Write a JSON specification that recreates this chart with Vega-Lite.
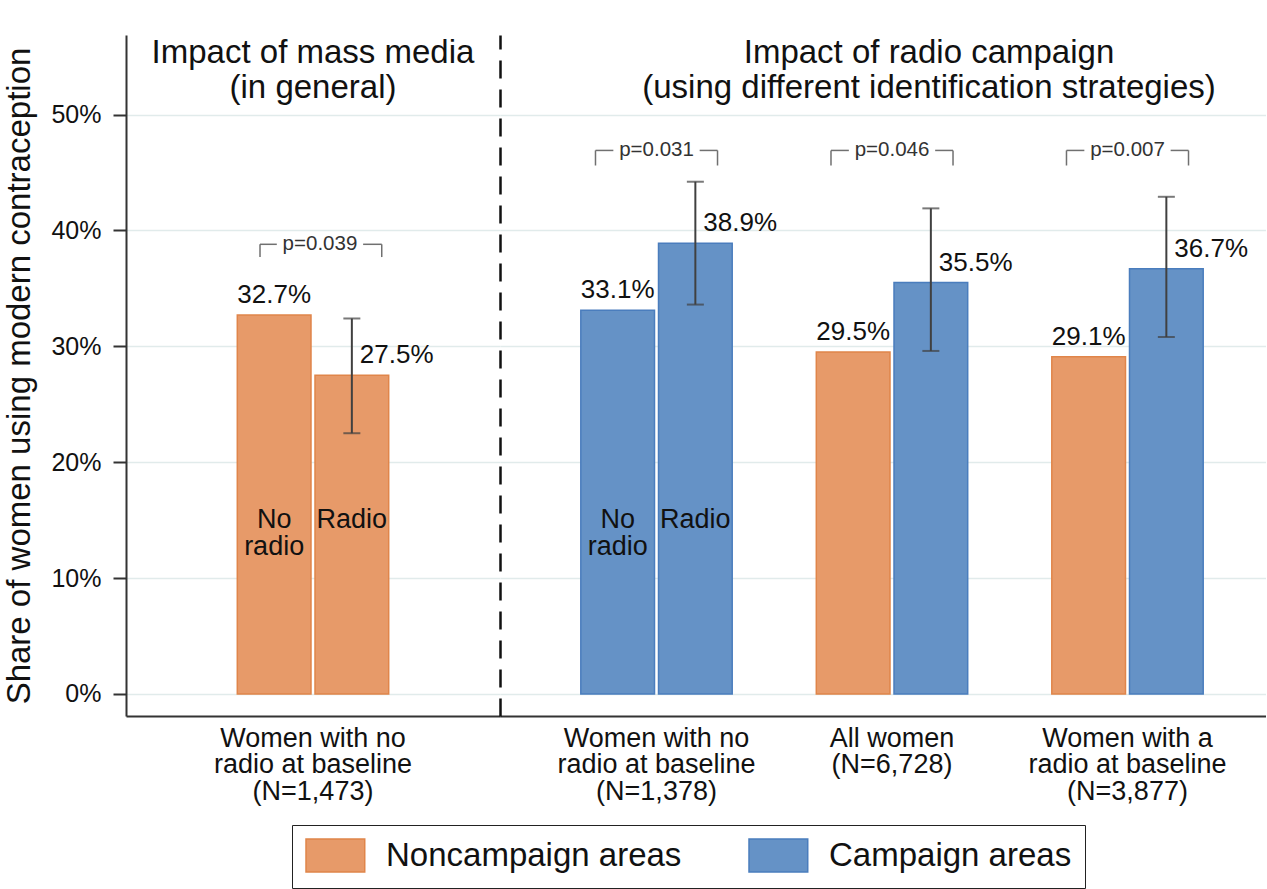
{
  "$schema": "https://vega.github.io/schema/vega-lite/v6.json",
  "background": "white",
  "padding": {"left": 3, "top": 35, "right": 0, "bottom": 0},
  "spacing": 0,
  "bounds": "flush",
  "config": {
    "font": "Liberation Sans",
    "view": {"stroke": null},
    "legend": {
      "orient": "none",
      "legendX": 166,
      "legendY": 790,
      "direction": "horizontal",
      "title": null,
      "labelFontSize": 33,
      "labelColor": "#111111",
      "labelLimit": 600,
      "symbolType": "M-1,-1H2.56V1H-1Z",
      "symbolSize": 1089,
      "symbolStrokeWidth": 1.5,
      "symbolOpacity": 1,
      "labelOffset": 46,
      "columnPadding": 64,
      "padding": 13,
      "strokeColor": "#222222"
    }
  },
  "datasets": {
    "bars": [
      {"panel": "media", "group": "Women with no\nradio at baseline\n(N=1,473)", "slot": "first", "area": "Noncampaign areas", "share": 32.7, "inbar": "No\nradio"},
      {"panel": "media", "group": "Women with no\nradio at baseline\n(N=1,473)", "slot": "second", "area": "Noncampaign areas", "share": 27.5, "lo": 22.5, "hi": 32.4, "inbar": "Radio"},
      {"panel": "campaign", "group": "Women with no\nradio at baseline\n(N=1,378)", "slot": "first", "area": "Campaign areas", "share": 33.1, "inbar": "No\nradio"},
      {"panel": "campaign", "group": "Women with no\nradio at baseline\n(N=1,378)", "slot": "second", "area": "Campaign areas", "share": 38.9, "lo": 33.6, "hi": 44.2, "inbar": "Radio"},
      {"panel": "campaign", "group": "All women\n(N=6,728)", "slot": "first", "area": "Noncampaign areas", "share": 29.5},
      {"panel": "campaign", "group": "All women\n(N=6,728)", "slot": "second", "area": "Campaign areas", "share": 35.5, "lo": 29.6, "hi": 41.9},
      {"panel": "campaign", "group": "Women with a\nradio at baseline\n(N=3,877)", "slot": "first", "area": "Noncampaign areas", "share": 29.1},
      {"panel": "campaign", "group": "Women with a\nradio at baseline\n(N=3,877)", "slot": "second", "area": "Campaign areas", "share": 36.7, "lo": 30.8, "hi": 42.9}
    ],
    "tests": [
      {"panel": "media", "group": "Women with no\nradio at baseline\n(N=1,473)", "p": "p=0.039"},
      {"panel": "campaign", "group": "Women with no\nradio at baseline\n(N=1,378)", "p": "p=0.031"},
      {"panel": "campaign", "group": "All women\n(N=6,728)", "p": "p=0.046"},
      {"panel": "campaign", "group": "Women with a\nradio at baseline\n(N=3,877)", "p": "p=0.007"}
    ]
  },
  "resolve": {"scale": {"x": "independent", "xOffset": "independent", "y": "independent"}},
  "hconcat": [
    {
      "width": 374,
      "height": 681,
      "title": {
        "text": ["Impact of mass media", "(in general)"],
        "fontSize": 33, "fontWeight": "normal", "color": "#111111",
        "anchor": "middle", "frame": "group",
        "offset": -70, "lineHeight": 35
      },
      "layer": [
        {
          "data": {"name": "bars"},
          "transform": [{"filter": "datum.panel === 'media'"}],
          "mark": {"type": "bar", "strokeWidth": 1.5},
          "encoding": {
            "x": {
              "field": "group", "type": "nominal", "sort": null,
              "scale": {"paddingInner": 0, "paddingOuter": 0.7351, "align": 0.5},
              "axis": {
                "title": null, "labelAngle": 0, "labelExpr": "split(datum.value, '\\n')",
                "labelFontSize": 27, "labelLineHeight": 26.5, "labelColor": "#111111",
                "labelBaseline": "top", "labelPadding": 9, "labelLimit": 600, "labelOverlap": false,
                "ticks": false, "tickSize": 0,
                "domainColor": "#333333", "domainWidth": 2
              }
            },
            "xOffset": {"field": "slot", "type": "nominal", "sort": ["first", "second"], "scale": {"paddingInner": 0.0515, "paddingOuter": 0}},
            "y": {
              "field": "share", "type": "quantitative",
              "scale": {"domain": [-1.9, 56.86], "nice": false, "zero": false},
              "axis": {
                "title": "Share of women using modern contraception",
                "titleFontSize": 33, "titleFontWeight": "normal", "titleColor": "#111111", "titlePadding": 14,
                "values": [0, 10, 20, 30, 40, 50], "labelExpr": "datum.value + '%'",
                "labelFontSize": 25, "labelColor": "#111111", "labelPadding": 12,
                "tickSize": 13, "tickColor": "#333333", "tickWidth": 2,
                "domainColor": "#333333", "domainWidth": 2,
                "grid": true, "gridColor": "#e1ebeb", "gridWidth": 1.5
              }
            },
            "y2": {"datum": 0},
            "fill": {
              "field": "area", "type": "nominal",
              "scale": {"domain": ["Noncampaign areas", "Campaign areas"], "range": ["#e79a69", "#6592c6"]}
            },
            "stroke": {
              "field": "area", "type": "nominal",
              "scale": {"domain": ["Noncampaign areas", "Campaign areas"], "range": ["#e0854a", "#4a7dbd"]}
            }
          }
        },
        {
          "data": {"name": "bars"},
          "transform": [{"filter": "datum.panel === 'media' && isValid(datum.inbar)"}],
          "mark": {"type": "text", "fontSize": 27, "color": "#111111", "baseline": "middle", "align": "center", "lineBreak": "\n", "lineHeight": 27},
          "encoding": {
            "x": {"field": "group", "type": "nominal", "sort": null},
            "xOffset": {"field": "slot", "type": "nominal", "sort": ["first", "second"]},
            "y": {"datum": 15},
            "text": {"field": "inbar", "type": "nominal"}
          }
        },
        {
          "data": {"name": "bars"},
          "transform": [
            {"filter": "datum.panel === 'media' && !isValid(datum.hi)"},
            {"calculate": "format(datum.share, '.1f') + '%'", "as": "label"}
          ],
          "mark": {"type": "text", "fontSize": 26, "color": "#111111", "baseline": "alphabetic", "align": "center", "dy": -12},
          "encoding": {
            "x": {"field": "group", "type": "nominal", "sort": null},
            "xOffset": {"field": "slot", "type": "nominal", "sort": ["first", "second"]},
            "y": {"field": "share", "type": "quantitative"},
            "text": {"field": "label", "type": "nominal"}
          }
        },
        {
          "data": {"name": "bars"},
          "transform": [{"filter": "datum.panel === 'media' && isValid(datum.hi)"}],
          "mark": {"type": "rule", "color": "#404040", "strokeWidth": 2},
          "encoding": {
            "x": {"field": "group", "type": "nominal", "sort": null},
            "xOffset": {"field": "slot", "type": "nominal", "sort": ["first", "second"]},
            "y": {"field": "lo", "type": "quantitative"},
            "y2": {"field": "hi"}
          }
        },
        {
          "data": {"name": "bars"},
          "transform": [{"filter": "datum.panel === 'media' && isValid(datum.hi)"}],
          "mark": {"type": "tick", "orient": "horizontal", "size": 17, "thickness": 2, "color": "#404040"},
          "encoding": {
            "x": {"field": "group", "type": "nominal", "sort": null},
            "xOffset": {"field": "slot", "type": "nominal", "sort": ["first", "second"]},
            "y": {"field": "lo", "type": "quantitative"}
          }
        },
        {
          "data": {"name": "bars"},
          "transform": [{"filter": "datum.panel === 'media' && isValid(datum.hi)"}],
          "mark": {"type": "tick", "orient": "horizontal", "size": 17, "thickness": 2, "color": "#404040"},
          "encoding": {
            "x": {"field": "group", "type": "nominal", "sort": null},
            "xOffset": {"field": "slot", "type": "nominal", "sort": ["first", "second"]},
            "y": {"field": "hi", "type": "quantitative"}
          }
        },
        {
          "data": {"name": "bars"},
          "transform": [
            {"filter": "datum.panel === 'media' && isValid(datum.hi)"},
            {"calculate": "format(datum.share, '.1f') + '%'", "as": "label"}
          ],
          "mark": {"type": "text", "fontSize": 26, "color": "#111111", "baseline": "alphabetic", "align": "left", "dx": 8, "dy": -12},
          "encoding": {
            "x": {"field": "group", "type": "nominal", "sort": null},
            "xOffset": {"field": "slot", "type": "nominal", "sort": ["first", "second"]},
            "y": {"field": "share", "type": "quantitative"},
            "text": {"field": "label", "type": "nominal"}
          }
        },
        {
          "data": {"name": "tests"},
          "transform": [{"filter": "datum.panel === 'media'"}],
          "mark": {"type": "rule", "color": "#707070", "strokeWidth": 1.5},
          "encoding": {
            "x": {"field": "group", "type": "nominal", "sort": null, "bandPosition": 0.15},
            "x2": {"field": "group", "bandPosition": 0.261},
            "y": {"datum": 38.8}
          }
        },
        {
          "data": {"name": "tests"},
          "transform": [{"filter": "datum.panel === 'media'"}],
          "mark": {"type": "rule", "color": "#707070", "strokeWidth": 1.5},
          "encoding": {
            "x": {"field": "group", "type": "nominal", "sort": null, "bandPosition": 0.831},
            "x2": {"field": "group", "bandPosition": 0.954},
            "y": {"datum": 38.8}
          }
        },
        {
          "data": {"name": "tests"},
          "transform": [{"filter": "datum.panel === 'media'"}],
          "mark": {"type": "rule", "color": "#707070", "strokeWidth": 1.5},
          "encoding": {
            "x": {"field": "group", "type": "nominal", "sort": null, "bandPosition": 0.15},
            "y": {"datum": 38.8},
            "y2": {"datum": 37.7}
          }
        },
        {
          "data": {"name": "tests"},
          "transform": [{"filter": "datum.panel === 'media'"}],
          "mark": {"type": "rule", "color": "#707070", "strokeWidth": 1.5},
          "encoding": {
            "x": {"field": "group", "type": "nominal", "sort": null, "bandPosition": 0.954},
            "y": {"datum": 38.8},
            "y2": {"datum": 37.7}
          }
        },
        {
          "data": {"name": "tests"},
          "transform": [{"filter": "datum.panel === 'media'"}],
          "mark": {"type": "text", "fontSize": 20.5, "color": "#333333", "baseline": "middle", "align": "center"},
          "encoding": {
            "x": {"field": "group", "type": "nominal", "sort": null, "bandPosition": 0.546},
            "y": {"datum": 38.8},
            "text": {"field": "p", "type": "nominal"}
          }
        }
      ]
    },
    {
      "width": 766,
      "height": 681,
      "title": {
        "text": ["Impact of radio campaign", "(using different identification strategies)"],
        "fontSize": 33, "fontWeight": "normal", "color": "#111111",
        "anchor": "middle", "frame": "group",
        "offset": -70, "lineHeight": 35, "dx": 46
      },
      "layer": [
        {
          "data": {"name": "bars"},
          "transform": [{"filter": "datum.panel === 'campaign'"}],
          "mark": {"type": "bar", "strokeWidth": 1.5},
          "encoding": {
            "x": {
              "field": "group", "type": "nominal", "sort": null,
              "scale": {"paddingInner": 0.3571, "paddingOuter": 0.3049, "align": 0.5627},
              "axis": {
                "title": null, "labelAngle": 0, "labelExpr": "split(datum.value, '\\n')",
                "labelFontSize": 27, "labelLineHeight": 26.5, "labelColor": "#111111",
                "labelBaseline": "top", "labelPadding": 9, "labelLimit": 600, "labelOverlap": false,
                "ticks": false, "tickSize": 0,
                "domainColor": "#333333", "domainWidth": 2
              }
            },
            "xOffset": {"field": "slot", "type": "nominal", "sort": ["first", "second"], "scale": {"paddingInner": 0.0515, "paddingOuter": 0}},
            "y": {
              "field": "share", "type": "quantitative",
              "scale": {"domain": [-1.9, 56.86], "nice": false, "zero": false},
              "axis": {
                "title": null, "labels": false, "ticks": false,
                "values": [0, 10, 20, 30, 40, 50],
                "domainColor": "#111111", "domainWidth": 2.5, "domainDash": [18, 11],
                "grid": true, "gridColor": "#e1ebeb", "gridWidth": 1.5
              }
            },
            "y2": {"datum": 0},
            "fill": {
              "field": "area", "type": "nominal",
              "scale": {"domain": ["Noncampaign areas", "Campaign areas"], "range": ["#e79a69", "#6592c6"]}
            },
            "stroke": {
              "field": "area", "type": "nominal",
              "scale": {"domain": ["Noncampaign areas", "Campaign areas"], "range": ["#e0854a", "#4a7dbd"]}
            }
          }
        },
        {
          "data": {"name": "bars"},
          "transform": [{"filter": "datum.panel === 'campaign' && isValid(datum.inbar)"}],
          "mark": {"type": "text", "fontSize": 27, "color": "#111111", "baseline": "middle", "align": "center", "lineBreak": "\n", "lineHeight": 27},
          "encoding": {
            "x": {"field": "group", "type": "nominal", "sort": null},
            "xOffset": {"field": "slot", "type": "nominal", "sort": ["first", "second"]},
            "y": {"datum": 15},
            "text": {"field": "inbar", "type": "nominal"}
          }
        },
        {
          "data": {"name": "bars"},
          "transform": [
            {"filter": "datum.panel === 'campaign' && !isValid(datum.hi)"},
            {"calculate": "format(datum.share, '.1f') + '%'", "as": "label"}
          ],
          "mark": {"type": "text", "fontSize": 26, "color": "#111111", "baseline": "alphabetic", "align": "center", "dy": -12},
          "encoding": {
            "x": {"field": "group", "type": "nominal", "sort": null},
            "xOffset": {"field": "slot", "type": "nominal", "sort": ["first", "second"]},
            "y": {"field": "share", "type": "quantitative"},
            "text": {"field": "label", "type": "nominal"}
          }
        },
        {
          "data": {"name": "bars"},
          "transform": [{"filter": "datum.panel === 'campaign' && isValid(datum.hi)"}],
          "mark": {"type": "rule", "color": "#404040", "strokeWidth": 2},
          "encoding": {
            "x": {"field": "group", "type": "nominal", "sort": null},
            "xOffset": {"field": "slot", "type": "nominal", "sort": ["first", "second"]},
            "y": {"field": "lo", "type": "quantitative"},
            "y2": {"field": "hi"}
          }
        },
        {
          "data": {"name": "bars"},
          "transform": [{"filter": "datum.panel === 'campaign' && isValid(datum.hi)"}],
          "mark": {"type": "tick", "orient": "horizontal", "size": 17, "thickness": 2, "color": "#404040"},
          "encoding": {
            "x": {"field": "group", "type": "nominal", "sort": null},
            "xOffset": {"field": "slot", "type": "nominal", "sort": ["first", "second"]},
            "y": {"field": "lo", "type": "quantitative"}
          }
        },
        {
          "data": {"name": "bars"},
          "transform": [{"filter": "datum.panel === 'campaign' && isValid(datum.hi)"}],
          "mark": {"type": "tick", "orient": "horizontal", "size": 17, "thickness": 2, "color": "#404040"},
          "encoding": {
            "x": {"field": "group", "type": "nominal", "sort": null},
            "xOffset": {"field": "slot", "type": "nominal", "sort": ["first", "second"]},
            "y": {"field": "hi", "type": "quantitative"}
          }
        },
        {
          "data": {"name": "bars"},
          "transform": [
            {"filter": "datum.panel === 'campaign' && isValid(datum.hi)"},
            {"calculate": "format(datum.share, '.1f') + '%'", "as": "label"}
          ],
          "mark": {"type": "text", "fontSize": 26, "color": "#111111", "baseline": "alphabetic", "align": "left", "dx": 8, "dy": -12},
          "encoding": {
            "x": {"field": "group", "type": "nominal", "sort": null},
            "xOffset": {"field": "slot", "type": "nominal", "sort": ["first", "second"]},
            "y": {"field": "share", "type": "quantitative"},
            "text": {"field": "label", "type": "nominal"}
          }
        },
        {
          "data": {"name": "tests"},
          "transform": [{"filter": "datum.panel === 'campaign'"}],
          "mark": {"type": "rule", "color": "#707070", "strokeWidth": 1.5},
          "encoding": {
            "x": {"field": "group", "type": "nominal", "sort": null, "bandPosition": 0.097},
            "x2": {"field": "group", "bandPosition": 0.215},
            "y": {"datum": 46.9}
          }
        },
        {
          "data": {"name": "tests"},
          "transform": [{"filter": "datum.panel === 'campaign'"}],
          "mark": {"type": "rule", "color": "#707070", "strokeWidth": 1.5},
          "encoding": {
            "x": {"field": "group", "type": "nominal", "sort": null, "bandPosition": 0.785},
            "x2": {"field": "group", "bandPosition": 0.903},
            "y": {"datum": 46.9}
          }
        },
        {
          "data": {"name": "tests"},
          "transform": [{"filter": "datum.panel === 'campaign'"}],
          "mark": {"type": "rule", "color": "#707070", "strokeWidth": 1.5},
          "encoding": {
            "x": {"field": "group", "type": "nominal", "sort": null, "bandPosition": 0.097},
            "y": {"datum": 46.9},
            "y2": {"datum": 45.6}
          }
        },
        {
          "data": {"name": "tests"},
          "transform": [{"filter": "datum.panel === 'campaign'"}],
          "mark": {"type": "rule", "color": "#707070", "strokeWidth": 1.5},
          "encoding": {
            "x": {"field": "group", "type": "nominal", "sort": null, "bandPosition": 0.903},
            "y": {"datum": 46.9},
            "y2": {"datum": 45.6}
          }
        },
        {
          "data": {"name": "tests"},
          "transform": [{"filter": "datum.panel === 'campaign'"}],
          "mark": {"type": "text", "fontSize": 20.5, "color": "#333333", "baseline": "middle", "align": "center"},
          "encoding": {
            "x": {"field": "group", "type": "nominal", "sort": null},
            "y": {"datum": 46.9},
            "text": {"field": "p", "type": "nominal"}
          }
        }
      ]
    }
  ]
}
